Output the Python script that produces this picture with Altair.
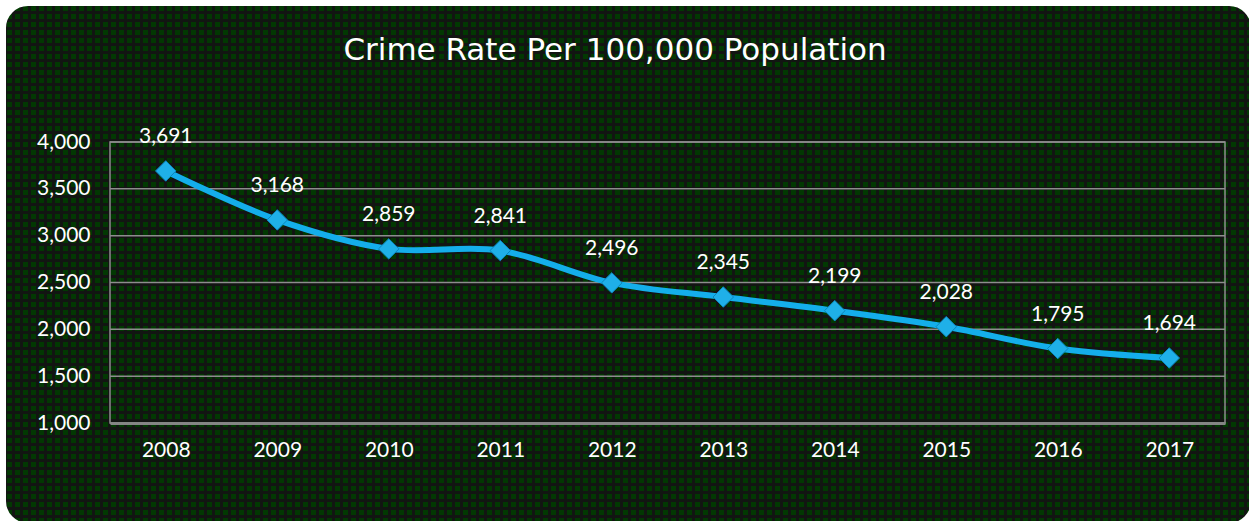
import altair as alt
import pandas as pd

years = ["2008", "2009", "2010", "2011", "2012", "2013", "2014", "2015", "2016", "2017"]
rates = [3691, 3168, 2859, 2841, 2496, 2345, 2199, 2028, 1795, 1694]
y_ticks = [1000, 1500, 2000, 2500, 3000, 3500, 4000]
title_text = "Crime Rate Per 100,000 Population"

W, H = 1115, 281
FONT = "Lato"
GREEN = "#023802"
DARK = "#121512"
LINE = "#14aeea"

df = pd.DataFrame({"year": years, "rate": rates})
df["label"] = [f"{v:,}" for v in rates]
grid_df = pd.DataFrame({"v": y_ticks})
one = pd.DataFrame({"k": [0]})

xenc = alt.X("year:N", sort=years, title=None,
             axis=alt.Axis(labelColor="white", labelFont=FONT, labelFontSize=21,
                           labelAngle=0, ticks=False, labelPadding=16,
                           domainColor="#858585", domainWidth=3, zindex=1))
yscale = alt.Scale(domain=[1000, 4000], nice=False, zero=False)
yenc = alt.Y("rate:Q", scale=yscale, title=None,
             axis=alt.Axis(values=y_ticks, format=",d", labelColor="white",
                           labelFont=FONT, labelFontSize=21, ticks=False,
                           domain=False, grid=False, labelPadding=20, zindex=1))

# background texture (decoration)
vstripes = alt.Chart(one).mark_rule(color=DARK, strokeWidth=540, strokeDash=[3, 5],
                                    strokeDashOffset=4).encode(
    x=alt.value(-110), x2=alt.value(1139), y=alt.value(118.5))
hstripes = alt.Chart(one).mark_rule(color=DARK, strokeWidth=1270, strokeDash=[3, 5],
                                    strokeDashOffset=5).encode(
    x=alt.value(514.5), y=alt.value(-142), y2=alt.value(379))
frame_out = alt.Chart(one).mark_rect(fillOpacity=0, stroke="white", strokeWidth=30,
                                     cornerRadius=37).encode(
    x=alt.value(-119), x2=alt.value(1156), y=alt.value(-151), y2=alt.value(396))

grid = alt.Chart(grid_df).mark_rule(color="#8d8d8d", strokeWidth=1.5).encode(
    y=alt.Y("v:Q", scale=yscale))
border = alt.Chart(one).mark_rect(fillOpacity=0, stroke="#8d8d8d", strokeWidth=1.5).encode(
    x=alt.value(0), x2=alt.value(W), y=alt.value(0), y2=alt.value(H))

base = alt.Chart(df)
line = base.mark_line(color=LINE, strokeWidth=6, interpolate="catmull-rom").encode(x=xenc, y=yenc)
pts = base.mark_point(shape="diamond", size=420, filled=True, fill="#1fb0e8",
                      stroke="#0b86bb", strokeWidth=1, opacity=1).encode(x=xenc, y=yenc)
labels = base.mark_text(color="white", font=FONT, fontSize=21, dy=-34,
                        baseline="middle").encode(x=xenc, y=yenc, text="label:N")
title = alt.Chart(one).mark_text(text=title_text, color="white", font="DejaVu Sans", fontSize=31,
                                 baseline="middle", align="center").encode(
    x=alt.value(505), y=alt.value(-91))

chart = alt.layer(vstripes, hstripes, frame_out, grid, border, line, pts, labels, title).properties(
    width=W, height=H,
    autosize=alt.AutoSizeParams(type="none"),
    padding={"left": 110, "top": 142, "right": 24, "bottom": 98},
    background=GREEN,
).configure_view(stroke=None)

chart.save("out.html", embed_options={"renderer": "svg", "actions": False})
